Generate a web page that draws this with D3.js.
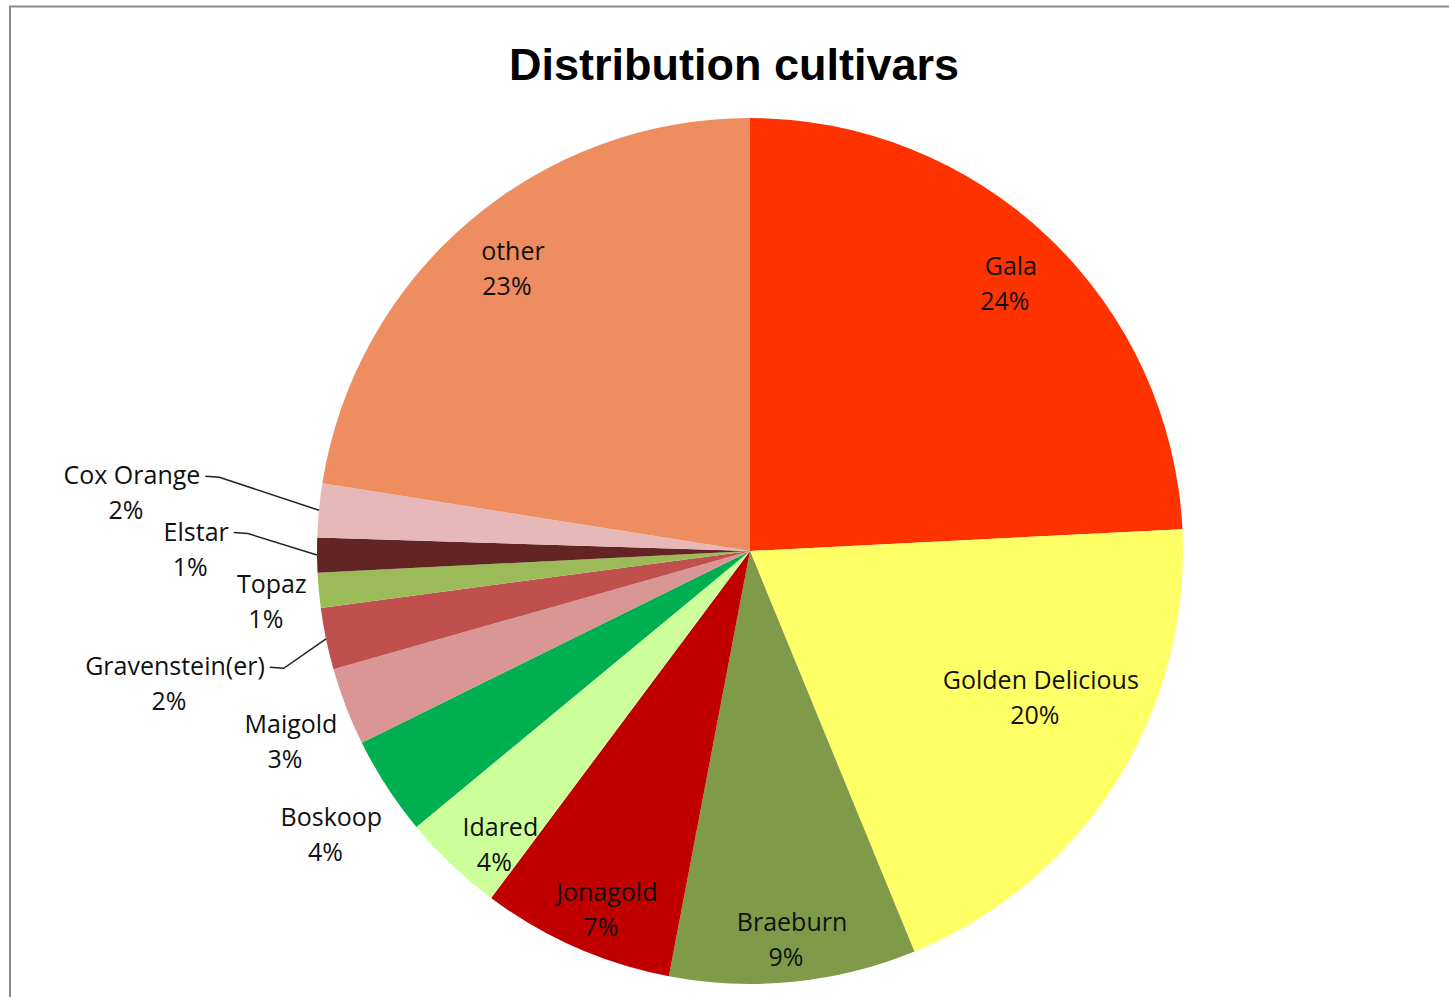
<!DOCTYPE html>
<html lang="en">
<head>
  <meta charset="UTF-8">
  <title>Distribution cultivars</title>
  <style>
    body { margin: 0; background: #fff; }
  </style>
</head>
<body>

  <svg id="svg" width="1449" height="997"></svg>

  <script src="https://d3js.org/d3.v7.min.js"></script>
  <script>
    const cultivars = ['Gala', 'Golden Delicious', 'Braeburn', 'Jonagold', 'Idared', 'Boskoop',
      'Maigold', 'Gravenstein(er)', 'Topaz', 'Elstar', 'Cox Orange', 'other']
    const shares = [24.2, 19.6, 9.2, 7.2, 3.8, 3.7, 2.9, 2.3, 1.3, 1.3, 2.0, 22.5]
    const colors = ['#ff3300', '#ffff66', '#7f9a48', '#c00000', '#ccff99', '#00b050',
      '#d99694', '#c0504d', '#9bbb59', '#632523', '#e6b9b8', '#ee8e60']
    // label placement: share of the radius, and a small turn (degrees) off the slice middle
    const labelRadius = [0.861, 0.744, 0.898, 0.891, 0.892, 1.171, 1.153, 1.369, 1.117, 1.286, 1.441, 0.859]
    const labelTurn = [0.2, -5.7, 0, -1.5, -2.7, -0.8, -1.2, -1.1, -0.6, 0.9, 0.1, 0.3]
    const hasLeader = [false, false, false, false, false, false, false, true, false, true, true, false]

    const data = cultivars.map((name, i) => ({
      name: name,
      value: shares[i],
      color: colors[i],
      lr: labelRadius[i],
      turn: labelTurn[i] * Math.PI / 180,
      leader: hasLeader[i]
    }))
    const total = d3.sum(shares)

    const cx = 750
    const cy = 551
    const r = 433

    const svg = d3.select('#svg')

    // frame of the chart area
    svg.append('rect')
      .attr('x', 10)
      .attr('y', 6.5)
      .attr('width', 1460)
      .attr('height', 1010)
      .attr('fill', 'none')
      .attr('stroke', '#8c8c8c')
      .attr('stroke-width', 2)

    svg.append('text')
      .text('Distribution cultivars')
      .attr('x', 734)
      .attr('y', 80)
      .attr('text-anchor', 'middle')
      .style('font-family', '"Liberation Sans Narrow", Arial, sans-serif')
      .style('font-weight', 'bold')
      .style('font-size', '45px')

    const pie = d3.pie()
      .value(d => d.value)
      .sort(null)

    const arc = d3.arc()
      .innerRadius(0)
      .outerRadius(r)

    const g = svg.append('g')
      .attr('transform', `translate(${cx},${cy})`)

    const arcs = pie(data)

    g.selectAll('path')
      .data(arcs)
      .enter()
      .append('path')
      .attr('d', arc)
      .attr('fill', d => d.data.color)

    const mid = d => (d.startAngle + d.endAngle) / 2
    const labelPos = d => {
      const a = mid(d) + d.data.turn
      const lr = d.data.lr * r
      return [Math.sin(a) * lr, -Math.cos(a) * lr]
    }

    const labels = g.selectAll('g.label')
      .data(arcs)
      .enter()
      .append('g')
      .attr('class', 'label')
      .attr('transform', d => `translate(${labelPos(d)})`)

    labels.append('text')
      .attr('class', 'name')
      .text(d => d.data.name)
      .attr('x', 3)
      .attr('y', -17)
      .attr('text-anchor', 'middle')
      .attr('dominant-baseline', 'central')
      .style('font-family', '"Open Sans", sans-serif')
      .style('font-size', '25px')
      .attr('fill', '#111')

    labels.append('text')
      .text(d => Math.round(d.data.value / total * 100) + '%')
      .attr('x', -3)
      .attr('y', 18)
      .attr('text-anchor', 'middle')
      .attr('dominant-baseline', 'central')
      .style('font-family', '"Open Sans", sans-serif')
      .style('font-size', '25px')
      .attr('fill', '#111')

    // leader lines for the small outside labels
    labels.filter(d => d.data.leader).each(function (d) {
      const a = mid(d)
      const [lx, ly] = labelPos(d)
      const w = d3.select(this).select('text.name').node().getComputedTextLength()
      const x0 = lx + 3 + w / 2 + 5
      const y0 = ly - 15
      const pts = [
        [x0, y0],
        [x0 + 14, y0 + 1],
        [Math.sin(a) * r, -Math.cos(a) * r]
      ]
      g.append('path')
        .attr('d', d3.line()(pts))
        .attr('fill', 'none')
        .attr('stroke', '#222')
        .attr('stroke-width', 1.5)
    })
  </script>
</body>
</html>
